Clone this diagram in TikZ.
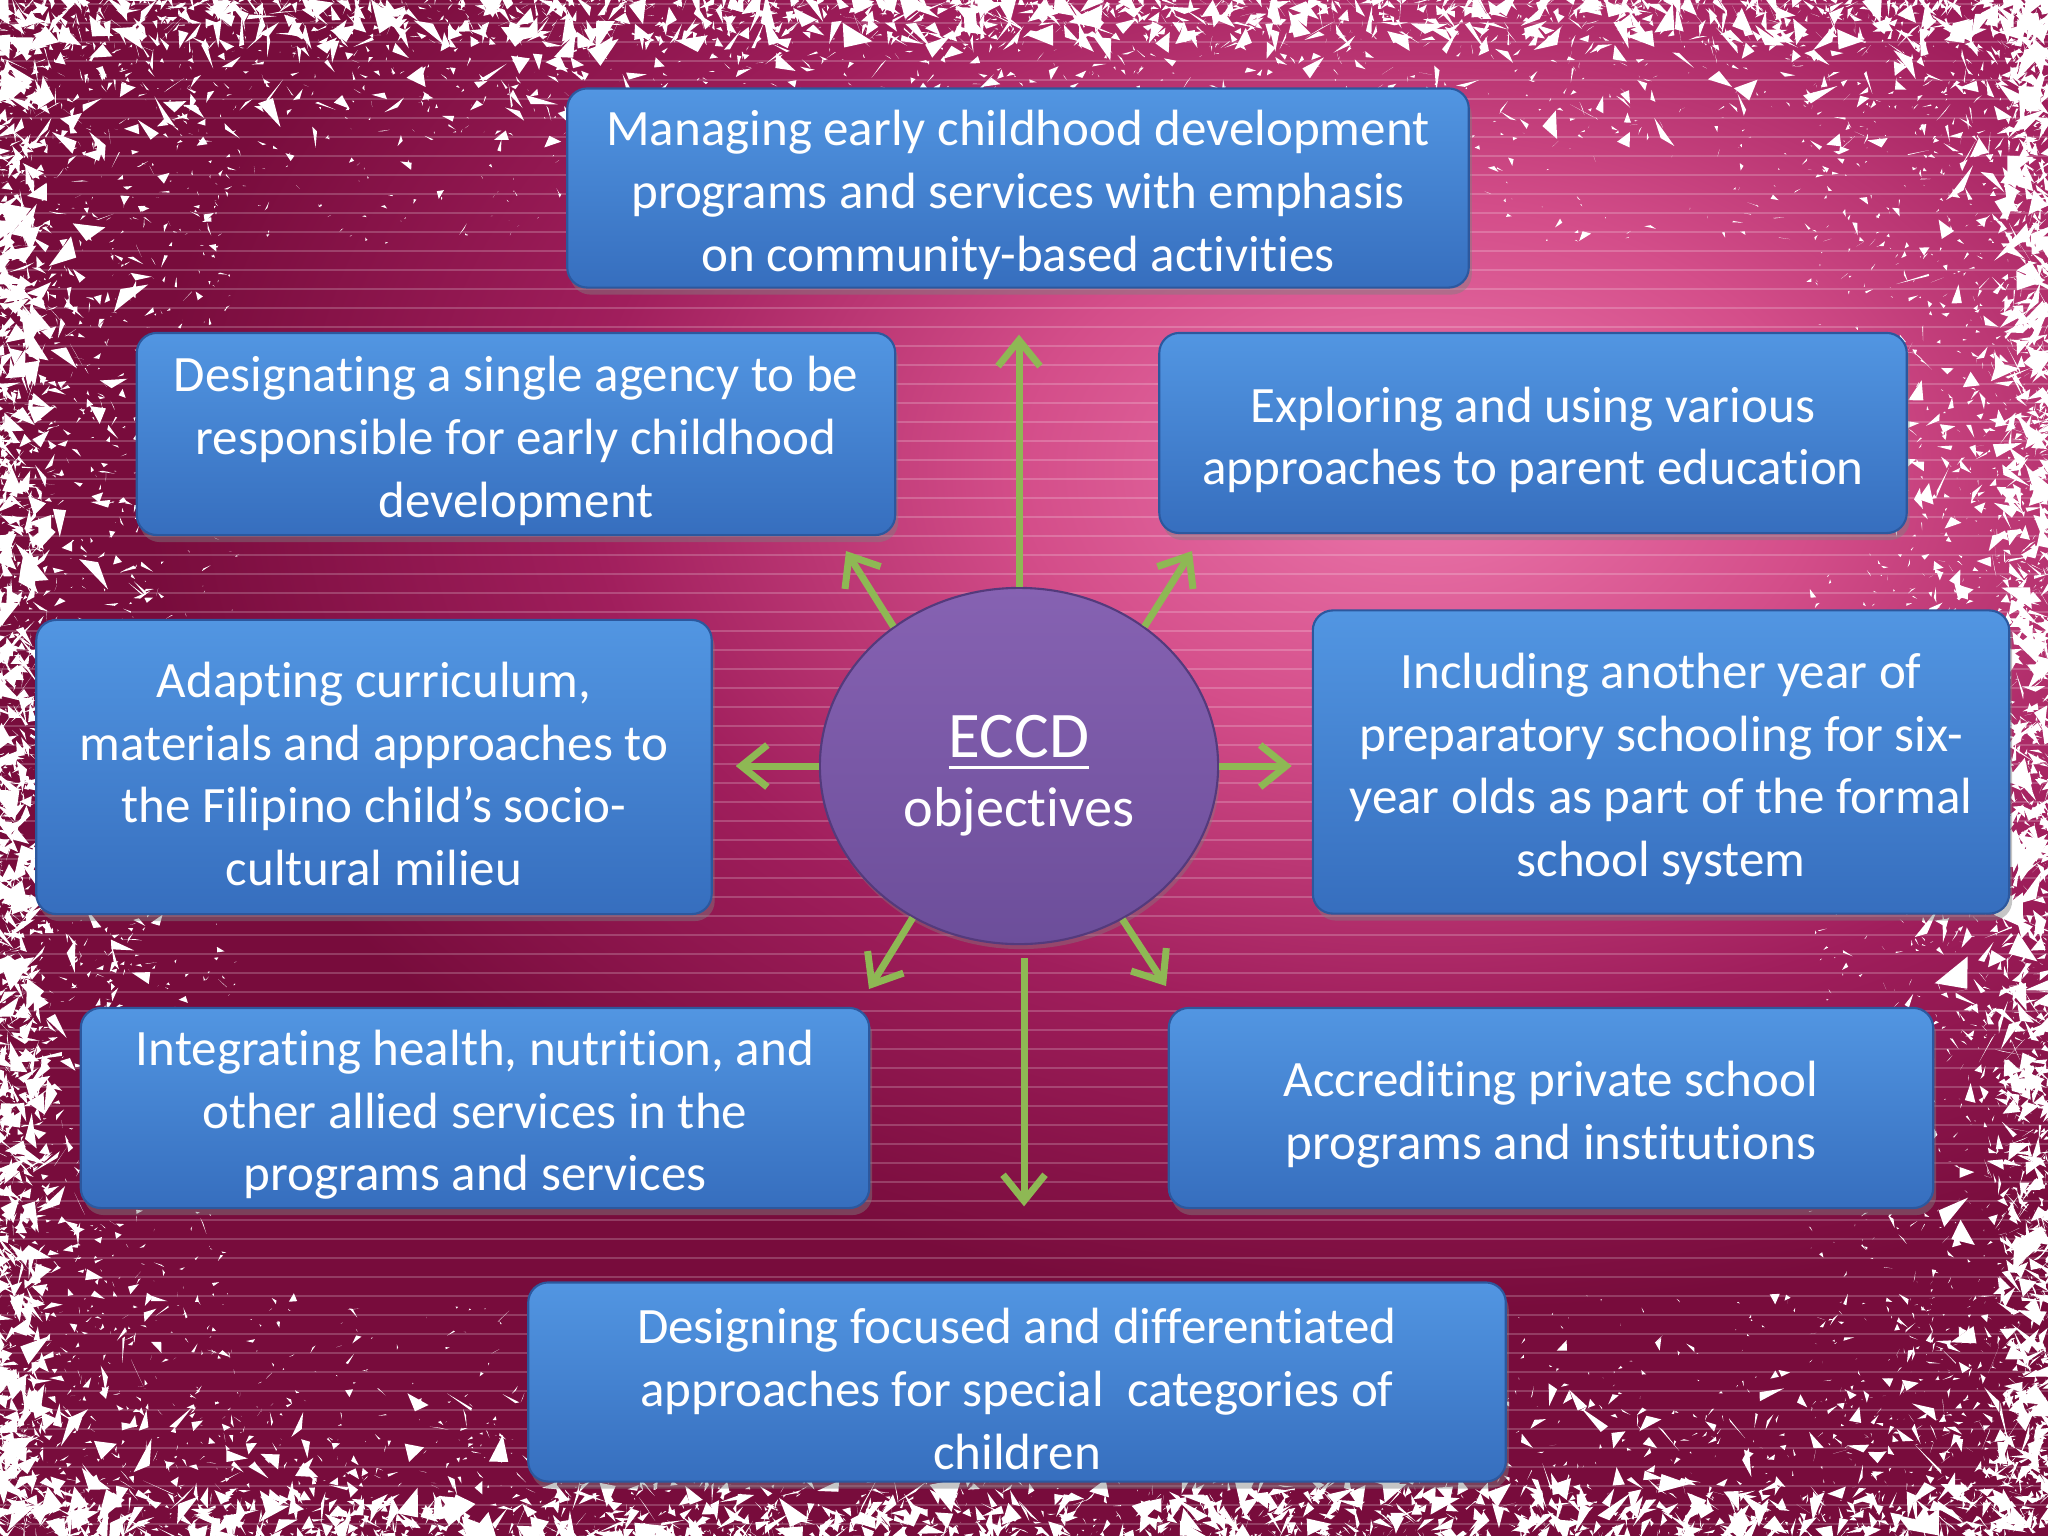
\documentclass[tikz,border=0pt]{standalone}
\usepackage{fontspec}
\setmainfont{Carlito}[Ligatures=CommonOff]
\usetikzlibrary{arrows.meta,shadows,shapes.geometric}
\definecolor{bgpink}{RGB}{236,120,172}
\definecolor{bgmid}{RGB}{212,78,138}
\definecolor{bgmag}{RGB}{160,30,92}
\definecolor{bgdark}{RGB}{120,12,60}
\definecolor{boxtop}{RGB}{82,150,226}
\definecolor{boxbot}{RGB}{54,110,190}
\definecolor{boxedge}{RGB}{44,88,158}
\definecolor{circtop}{RGB}{134,98,178}
\definecolor{circbot}{RGB}{108,78,154}
\definecolor{circedge}{RGB}{84,58,124}
\definecolor{arrgreen}{RGB}{142,184,84}
\pgfdeclareradialshading{bgshade}{\pgfpoint{0bp}{0bp}}{color(0bp)=(bgpink); color(4.5bp)=(bgmid); color(9.5bp)=(bgmag); color(14.5bp)=(bgdark); color(50bp)=(bgdark)}
\newcommand{\myul}[1]{\setbox0\hbox{#1}\rlap{\rule[-3.3pt]{\wd0}{0.9pt}}\box0}
\newcommand{\tup}{\rule{0pt}{14pt}}
\tikzset{
  box/.style={rounded corners=0.2cm, draw=boxedge, line width=0.6pt,
    top color=boxtop, bottom color=boxbot, text=white, align=center,
    font=\fontsize{14.5}{17.8}\selectfont, inner sep=0pt,
    drop shadow={opacity=0.45, shadow xshift=0.03cm, shadow yshift=-0.07cm}},
  hub/.style={ellipse, draw=circedge, line width=0.6pt, top color=circtop,
    bottom color=circbot, text=white, align=center, inner sep=0pt,
    minimum width=3.98cm, minimum height=3.56cm,
    font=\fontsize{16}{19.8}\selectfont,
    drop shadow={opacity=0.4, shadow xshift=0.02cm, shadow yshift=-0.05cm}},
  arr/.style={draw=arrgreen, line width=0.07cm,
    -{Straight Barb[length=0.26cm, width=0.42cm]}},
  stripe/.style={white, opacity=0.2, line width=0.022cm},
  grunge/.style={fill=white}
}
\begin{document}
\begin{tikzpicture}[x=0.01cm, y=-0.01cm]
\useasboundingbox (0,0) rectangle (2048,1536);
\clip (0,0) rectangle (2048,1536);
% background
\fill[bgdark] (0,0) rectangle (2048,1536);
\shade[shading=bgshade] (1420,470) ellipse [x radius=22cm, y radius=14.5cm];
\foreach \yy in {4,23,...,1536} \draw[stripe] (0,\yy) -- (2048,\yy);
% grunge border: fine speckles
\pgfmathsetseed{4242}
\foreach \i in {1,...,4500}{%
  \pgfmathsetmacro{\gside}{int(random(1,4))}%
  \pgfmathsetmacro{\gt}{rnd}%
  \pgfmathsetmacro{\gd}{pow(rnd,1.4)*240}%
  \pgfmathsetmacro{\gx}{\gside==1 ? \gt*2048 : (\gside==2 ? 2048-\gd : (\gside==3 ? \gt*2048 : \gd))}%
  \pgfmathsetmacro{\gy}{\gside==1 ? \gd : (\gside==2 ? \gt*1536 : (\gside==3 ? 1536-\gd : \gt*1536))}%
  \pgfmathsetmacro{\gr}{1.5+pow(rnd,2)*7}%
  \fill[grunge] ({\gx+\gr*(2*rnd-1)},{\gy+\gr*(2*rnd-1)}) -- ({\gx+\gr*(2*rnd-1)},{\gy+\gr*(2*rnd-1)}) -- ({\gx+\gr*(2*rnd-1)},{\gy+\gr*(2*rnd-1)}) -- cycle;
}
% grunge border: larger flakes near the edge
\foreach \i in {1,...,3500}{%
  \pgfmathsetmacro{\gside}{int(random(1,4))}%
  \pgfmathsetmacro{\gt}{rnd}%
  \pgfmathsetmacro{\gd}{pow(rnd,2.5)*150}%
  \pgfmathsetmacro{\gx}{\gside==1 ? \gt*2048 : (\gside==2 ? 2048-\gd : (\gside==3 ? \gt*2048 : \gd))}%
  \pgfmathsetmacro{\gy}{\gside==1 ? \gd : (\gside==2 ? \gt*1536 : (\gside==3 ? 1536-\gd : \gt*1536))}%
  \pgfmathsetmacro{\gr}{4+pow(rnd,2)*16}%
  \fill[grunge] ({\gx+\gr*(2*rnd-1)},{\gy+\gr*(2*rnd-1)}) -- ({\gx+\gr*(2*rnd-1)},{\gy+\gr*(2*rnd-1)}) -- ({\gx+\gr*(2*rnd-1)},{\gy+\gr*(2*rnd-1)}) -- cycle;
}
% grunge border: dense white rim
\foreach \i in {1,...,2000}{%
  \pgfmathsetmacro{\gside}{int(random(1,4))}%
  \pgfmathsetmacro{\gt}{rnd}%
  \pgfmathsetmacro{\gd}{rnd*45}%
  \pgfmathsetmacro{\gx}{\gside==1 ? \gt*2048 : (\gside==2 ? 2048-\gd : (\gside==3 ? \gt*2048 : \gd))}%
  \pgfmathsetmacro{\gy}{\gside==1 ? \gd : (\gside==2 ? \gt*1536 : (\gside==3 ? 1536-\gd : \gt*1536))}%
  \pgfmathsetmacro{\gr}{6+rnd*14}%
  \fill[grunge] ({\gx+\gr*(2*rnd-1)},{\gy+\gr*(2*rnd-1)}) -- ({\gx+\gr*(2*rnd-1)},{\gy+\gr*(2*rnd-1)}) -- ({\gx+\gr*(2*rnd-1)},{\gy+\gr*(2*rnd-1)}) -- cycle;
}
% boxes
\node[box, minimum width=9.01cm, minimum height=1.99cm] (b1) at (1018,188)
  {\tup Managing early childhood development\\programs and services with emphasis\\on community-based activities};
\node[box, minimum width=7.58cm, minimum height=2.02cm] (b2) at (516,434)
  {\tup Designating a single agency to be\\responsible for early childhood\\development};
\node[box, minimum width=7.47cm, minimum height=2.00cm] (b3) at (1533,433)
  {\tup Exploring and using various\\approaches to parent education};
\node[box, minimum width=6.75cm, minimum height=2.94cm] (b4) at (374,767)
  {\tup Adapting curriculum,\\materials and approaches to\\the Filipino child’s socio-\\cultural milieu};
\node[box, minimum width=6.96cm, minimum height=3.03cm] (b5) at (1661,762)
  {\tup Including another year of\\preparatory schooling for six-\\year olds as part of the formal\\school system};
\node[box, minimum width=7.88cm, minimum height=2.00cm] (b6) at (475,1108)
  {\tup Integrating health, nutrition, and\\other allied services in the\\programs and services};
\node[box, minimum width=7.64cm, minimum height=2.00cm] (b7) at (1551,1108)
  {\tup Accrediting private school\\programs and institutions};
\node[box, minimum width=9.77cm, minimum height=1.99cm] (b8) at (1017,1382)
  {\tup Designing focused and differentiated\\approaches for special~ categories of\\children};
% hub
\node[hub] (c) at (1019,766) {{\fontsize{18.5}{19.8}\selectfont\rule{0pt}{17.5pt}\myul{ECCD}}\\objectives};
% tips of the diagonal arrows
\coordinate (tUL) at (846,551);
\coordinate (tUR) at (1192,551);
\coordinate (tLL) at (869,989);
\coordinate (tLR) at (1166,986);
% arrows
\draw[arr, shorten >=0.46cm] (c.north) -- (c.north |- b1.south);
\draw[arr, shorten <=0.13cm, shorten >=0.75cm] ([xshift=0.05cm]c.south) -- ([xshift=0.05cm]c.south |- b8.north);
\draw[arr, shorten >=0.23cm] (c.west) -- (c.west -| b4.east);
\draw[arr, shorten >=0.2cm] (c.east) -- (c.east -| b5.west);
\draw[arr] (c.132) -- (tUL);
\draw[arr] (c.48) -- (tUR);
\draw[arr] (c.235) -- (tLL);
\draw[arr] (c.304) -- (tLR);
\end{tikzpicture}
\end{document}
